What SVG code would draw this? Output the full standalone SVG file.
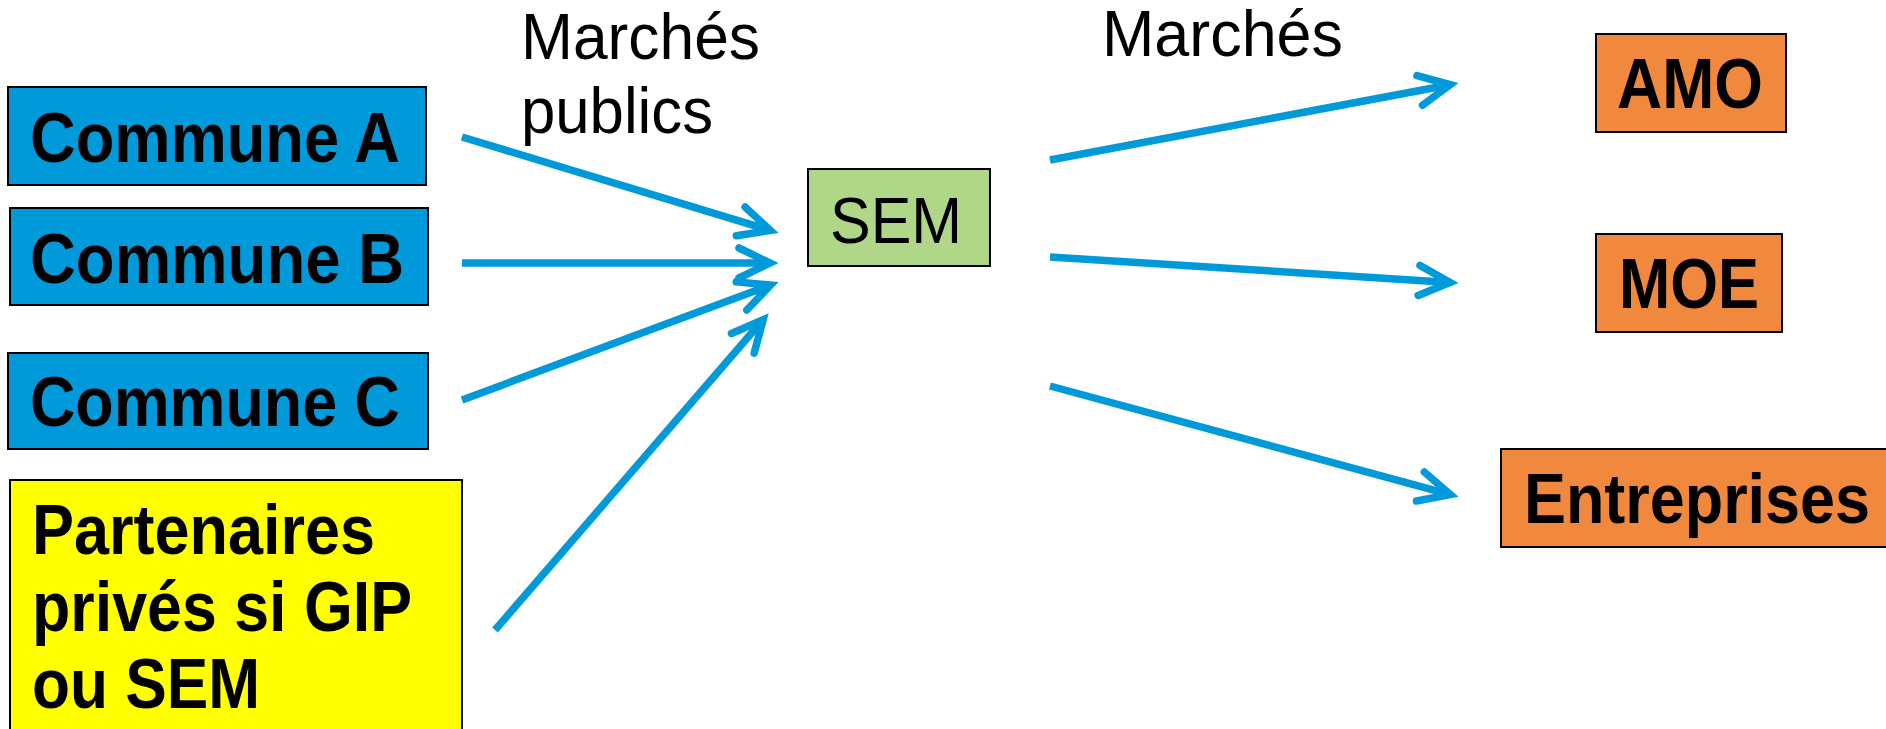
<svg xmlns="http://www.w3.org/2000/svg" width="1886" height="729" viewBox="0 0 1886 729">
<style>
.box{stroke:#000;stroke-width:2}
.blue{fill:#009ADB}
.orange{fill:#F0883D}
.green{fill:#B0D788}
.yellow{fill:#FFFF00}
.b{font-family:"Liberation Sans",Arial,sans-serif;font-weight:bold;font-size:70px;fill:#000}
.r{font-family:"Liberation Sans",Arial,sans-serif;font-size:65px;fill:#000}
.edge{stroke:#009ADB;stroke-width:7.5;fill:none}
</style>
<defs>
<marker id="ah" markerUnits="userSpaceOnUse" orient="auto" refX="0" refY="0" markerWidth="80" markerHeight="80" viewBox="-40 -40 80 80" overflow="visible">
<path d="M-31,-15 L0,0 L-31,15" fill="none" stroke="#009ADB" stroke-width="7.5" stroke-linecap="round" stroke-linejoin="miter"/>
</marker>
</defs>
<rect width="1886" height="729" fill="#fff"/>
<g id="communeA"><rect class="box blue" x="8" y="87" width="418" height="98"/><text class="b" x="30" y="162" textLength="370" lengthAdjust="spacingAndGlyphs">Commune A</text></g>
<g id="communeB"><rect class="box blue" x="10" y="208" width="418" height="97"/><text class="b" x="30" y="283" textLength="374" lengthAdjust="spacingAndGlyphs">Commune B</text></g>
<g id="communeC"><rect class="box blue" x="8" y="353" width="420" height="96"/><text class="b" x="30" y="426" textLength="370" lengthAdjust="spacingAndGlyphs">Commune C</text></g>
<g id="partenaires"><rect class="box yellow" x="10" y="480" width="452" height="260"/>
<text class="b" x="32" y="554" textLength="343" lengthAdjust="spacingAndGlyphs">Partenaires</text>
<text class="b" x="32" y="631" textLength="380" lengthAdjust="spacingAndGlyphs">privés si GIP</text>
<text class="b" x="32" y="708" textLength="228" lengthAdjust="spacingAndGlyphs">ou SEM</text></g>
<g id="sem"><rect class="box green" x="808" y="169" width="182" height="97"/><text class="r" x="830" y="243" font-size="66" textLength="132" lengthAdjust="spacingAndGlyphs">SEM</text></g>
<g id="amo"><rect class="box orange" x="1596" y="34" width="190" height="98"/><text class="b" x="1617" y="108" textLength="146" lengthAdjust="spacingAndGlyphs">AMO</text></g>
<g id="moe"><rect class="box orange" x="1596" y="234" width="186" height="98"/><text class="b" x="1619" y="308" textLength="140" lengthAdjust="spacingAndGlyphs">MOE</text></g>
<g id="entreprises"><rect class="box orange" x="1501" y="449" width="400" height="98"/><text class="b" x="1524" y="523" textLength="346" lengthAdjust="spacingAndGlyphs">Entreprises</text></g>
<g id="labels">
<text class="r" x="521" y="59" textLength="239" lengthAdjust="spacingAndGlyphs">Marchés</text>
<text class="r" x="521" y="133" textLength="192" lengthAdjust="spacingAndGlyphs">publics</text>
<text class="r" x="1102" y="56" textLength="241" lengthAdjust="spacingAndGlyphs">Marchés</text>
</g>
<g id="connectors">
<line class="edge" x1="462" y1="137" x2="770.4" y2="230.4" marker-end="url(#ah)"/>
<line class="edge" x1="462" y1="263" x2="770" y2="263" marker-end="url(#ah)"/>
<line class="edge" x1="462" y1="400" x2="770.6" y2="285.1" marker-end="url(#ah)"/>
<line class="edge" x1="495" y1="630" x2="763.1" y2="319.8" marker-end="url(#ah)"/>
<line class="edge" x1="1050" y1="160" x2="1450.2" y2="84.7" marker-end="url(#ah)"/>
<line class="edge" x1="1050" y1="257" x2="1450" y2="282.4" marker-end="url(#ah)"/>
<line class="edge" x1="1050" y1="386" x2="1450.3" y2="494.6" marker-end="url(#ah)"/>
</g>
</svg>
